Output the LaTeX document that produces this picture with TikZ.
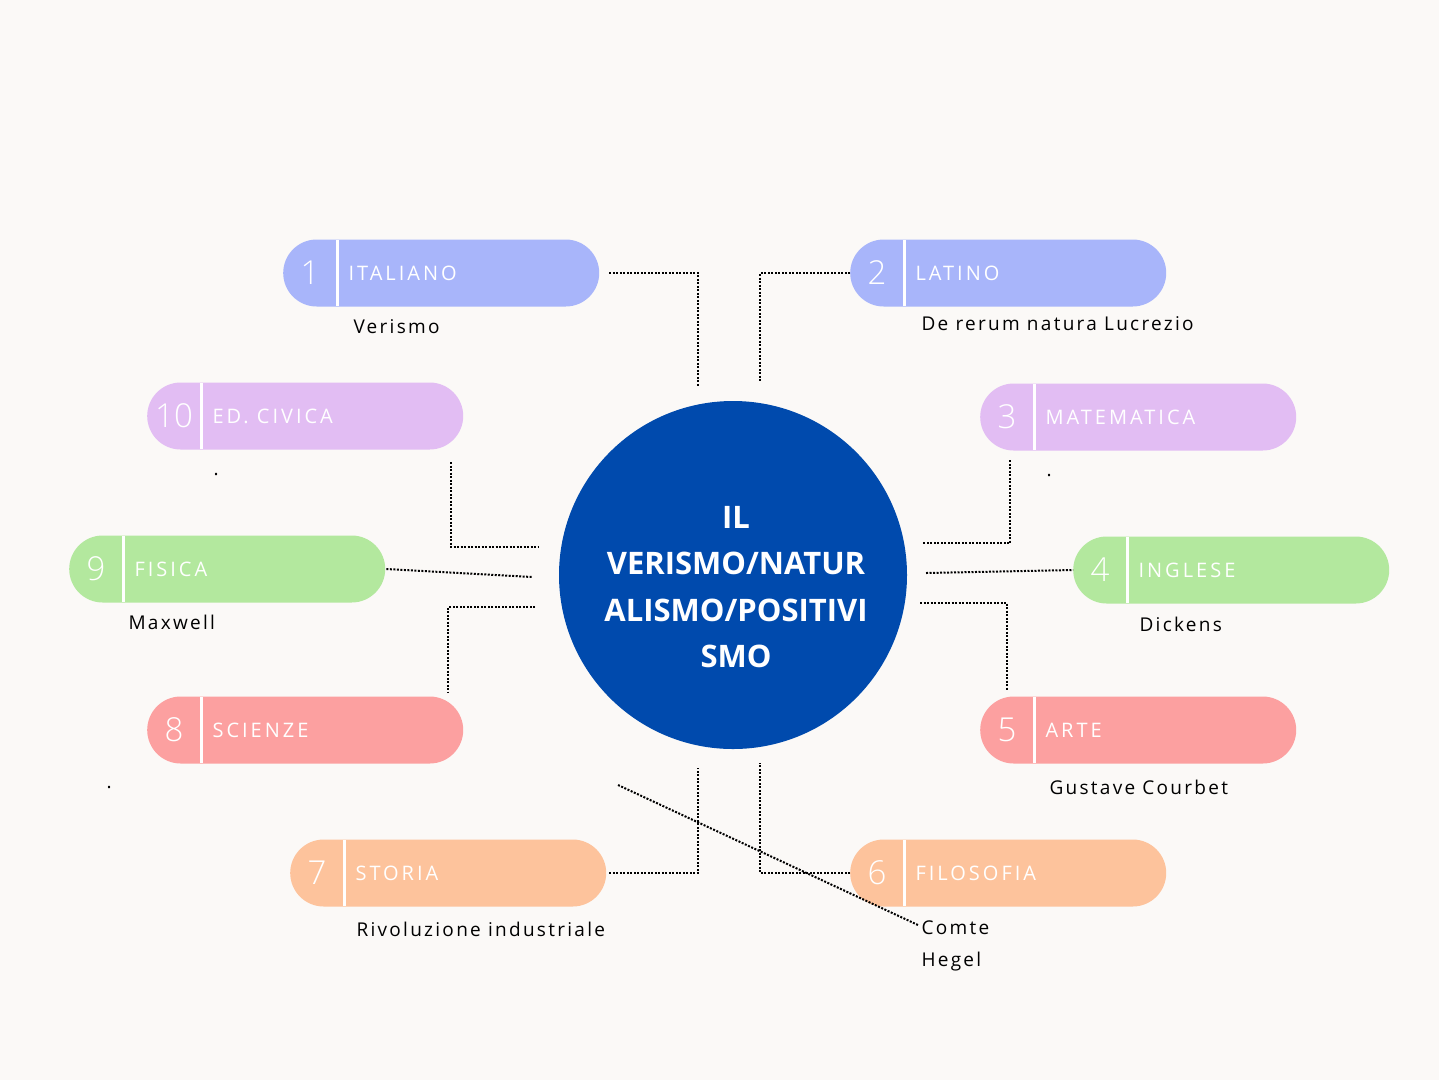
\documentclass[tikz,border=0pt]{standalone}
\usepackage{fontspec}
\usetikzlibrary{shapes.misc}
\newfontfamily\pf{Open Sans}[LetterSpace=15]
\newfontfamily\nf{Open Sans Light}
\newfontfamily\lf{Open Sans}[LetterSpace=12]
\newfontfamily\cf{Open Sans}
\definecolor{bg}{HTML}{FBF9F7}
\definecolor{cb}{HTML}{A8B5FA}
\definecolor{cl}{HTML}{E2BDF3}
\definecolor{cg}{HTML}{B3E89E}
\definecolor{cp}{HTML}{FCA0A0}
\definecolor{co}{HTML}{FDC39C}
\definecolor{circ}{HTML}{004AAD}
\tikzset{
 pill/.style={rounded rectangle,minimum width=316,minimum height=67,inner sep=0,anchor=west,fill=#1},
 num/.style={text=white,font=\nf\fontsize{33}{33}\selectfont},
 ptxt/.style={text=white,anchor=west,font=\pf\fontsize{20}{20}\selectfont},
 lab/.style={anchor=west,font=\lf\fontsize{19}{19}\selectfont,text=black},
 con/.style={line width=2,dash pattern=on 2 off 1.5,black}
}
\newcommand{\mypill}[6]{%
 \node[pill=#6] (#1) at (#2,#3) {};
 \node[num] (#1n) at (#2+27,#3) {#4};
 \draw[white,line width=3] (#2+54,#3-33) -- (#2+54,#3+33);
 \node[ptxt] (#1t) at (#2+62,#3) {#5};
}
\begin{document}
\begin{tikzpicture}[x=1pt,y=-1pt]
\fill[bg] (0,0) rectangle (1439,1080);
\useasboundingbox (0,0) rectangle (1439,1080);
\mypill{p1}{283}{273}{1}{ITALIANO}{cb}
\mypill{p2}{850}{273}{2}{LATINO}{cb}
\mypill{p10}{147}{416}{10}{ED. CIVICA}{cl}
\mypill{p3}{980}{417}{3}{MATEMATICA}{cl}
\mypill{p9}{69}{569}{9}{FISICA}{cg}
\mypill{p4}{1073}{570}{4}{INGLESE}{cg}
\mypill{p8}{147}{730}{8}{SCIENZE}{cp}
\mypill{p5}{980}{730}{5}{ARTE}{cp}
\mypill{p7}{290}{873}{7}{STORIA}{co}
\mypill{p6}{850}{873}{6}{FILOSOFIA}{co}
\node[circle,fill=circ,minimum size=348,inner sep=0] (c) at (733,575) {};
\node[text=white,align=center,font=\cf\bfseries\fontsize{31}{46.5}\selectfont] (ct) at (736,587) {IL\\VERISMO/NATUR\\ALISMO/POSITIVI\\SMO};
\node[lab] (l1) at (350,327) {Verismo};
\node[lab] (l2) at (918,324) {De rerum natura Lucrezio};
\node[lab] (l10) at (210,474) {.};
\node[lab] (l3) at (1043,475) {.};
\node[lab] (l9) at (125,622) {Maxwell};
\node[lab] (l4) at (1136,624) {Dickens};
\node[lab] (l8) at (103,787) {.};
\node[lab] (l5) at (1046,787) {Gustave Courbet};
\node[lab] (l7) at (353,929) {Rivoluzione industriale};
\node[lab] (l6a) at (918,928) {Comte};
\node[lab] (l6b) at (918,962) {Hegel};
\coordinate (e1) at (698,387); \coordinate (e2) at (760,382);
\coordinate (e10) at (538,547); \coordinate (e3) at (922,543);
\coordinate (e9) at (532,577); \coordinate (e4) at (926,573);
\coordinate (e8) at (535,607); \coordinate (e5) at (920,603);
\coordinate (e7) at (698,768); \coordinate (e6) at (760,763);
\coordinate (d1) at (618,785); \coordinate (d2) at (918,925);
\draw[con] ([xshift=10]p1.east) -| (e1);
\draw[con] (p2.west) -| (e2);
\draw[con] (451,462) |- (e10);
\draw[con] (1010,460) |- (e3);
\draw[con] ([xshift=1]p9.east) -- (e9);
\draw[con] (e4) -- (p4.west);
\draw[con] (e8) -| (448,692);
\draw[con] (e5) -| (1007,690);
\draw[con] ([xshift=3]p7.east) -| (e7);
\draw[con] (p6.west) -| (e6);
\draw[con] (d1) -- (d2);
\end{tikzpicture}
\end{document}
